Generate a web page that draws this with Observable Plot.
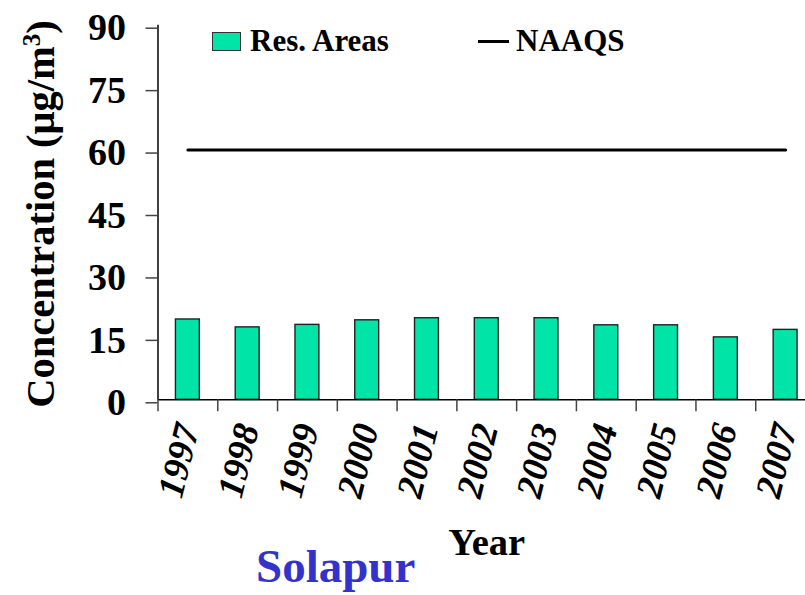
<!DOCTYPE html>
<html>
<head>
<meta charset="utf-8">
<script src="https://cdn.jsdelivr.net/npm/d3@7"></script>
<script src="https://cdn.jsdelivr.net/npm/@observablehq/plot@0.6"></script>
<style>
  html, body { margin: 0; padding: 0; background: #fff; overflow: hidden; width: 805px; height: 595px; }
  #wrap { position: relative; width: 805px; height: 595px; overflow: hidden; }
  .lbl { position: absolute; white-space: nowrap; line-height: 1; }
</style>
</head>
<body>
<div id="wrap"></div>
<script>
// ---- data ----
const years = [1997, 1998, 1999, 2000, 2001, 2002, 2003, 2004, 2005, 2006, 2007];
const resAreas = [19.3, 17.4, 18.0, 19.1, 19.6, 19.6, 19.6, 17.9, 17.9, 15.0, 16.8];
const naaqs = [60, 60, 60, 60, 60, 60, 60, 60, 60, 60, 60];
const yTicks = [0, 15, 30, 45, 60, 75, 90];
const seriesNames = ["Res. Areas", "NAAQS"];
const xTitle = "Year";
const yTitle = "Concentration (μg/m";
const yTitleSup = "3";
const yTitleEnd = ")";
const cityName = "Solapur";

const barColor = "#00E4A7";
const FONT = "'Liberation Serif'";

const table = years.map((y, i) => ({year: y, value: resAreas[i], limit: naaqs[i]}));
const boundaries = years.map(y => y - 0.5);

const chart = Plot.plot({
  width: 815,
  height: 595,
  marginLeft: 157.5,
  marginRight: 0,
  marginTop: 24.7,
  marginBottom: 195.7,
  style: "font-family: 'Liberation Serif'; font-weight: bold; font-size: 38px; color: #000; background: transparent; max-width: none; position: absolute; left: 0; top: 0;",
  x: {type: "linear", domain: [years[0] - 0.5, years[years.length - 1] + 0.5]},
  y: {domain: [0, 90]},
  marks: [
    Plot.rect(table, {
      x1: d => d.year - 0.2,
      x2: d => d.year + 0.2,
      y1: 0,
      y2: "value",
      fill: barColor,
      stroke: "#222",
      strokeWidth: 1.4
    }),
    Plot.lineY(table, {x: "year", y: "limit", stroke: "#000", strokeWidth: 3}),
    Plot.ruleY([0], {stroke: "#000", strokeWidth: 1.5}),
    Plot.ruleX([boundaries[0]], {stroke: "#000", strokeWidth: 1.5}),
    Plot.axisY({
      ticks: yTicks,
      tickSize: 12,
      tickPadding: 20,
      stroke: "#444",
      strokeWidth: 1.5,
      dy: 3,
      fontFamily: FONT,
      fontWeight: "bold",
      fontSize: 38,
      label: null
    }),
    Plot.axisX({
      ticks: boundaries,
      tickSize: 12,
      tickFormat: () => "",
      stroke: "#444",
      strokeWidth: 1.5,
      label: null
    }),
    Plot.axisX({
      ticks: years,
      tickSize: 0,
      tickPadding: 25,
      tickRotate: -76,
      tickFormat: d => String(d),
      fontFamily: FONT,
      fontWeight: "bold",
      fontStyle: "italic",
      fontSize: 37,
      label: null
    })
  ]
});

const wrap = document.getElementById("wrap");
wrap.appendChild(chart);

function addLabel(html, css) {
  const el = document.createElement("div");
  el.className = "lbl";
  el.innerHTML = html;
  el.style.fontFamily = FONT;
  el.style.fontWeight = "bold";
  Object.assign(el.style, css);
  wrap.appendChild(el);
  return el;
}

// legend
const sw = document.createElement("div");
Object.assign(sw.style, {position: "absolute", left: "211.7px", top: "32.3px", width: "29px", height: "18.7px",
  background: barColor, border: "1px solid #333", boxSizing: "border-box"});
wrap.appendChild(sw);
addLabel(seriesNames[0], {left: "250px", top: "24.5px", fontSize: "31px"});
const ln = document.createElement("div");
Object.assign(ln.style, {position: "absolute", left: "478px", top: "39.5px", width: "31px", height: "3px", background: "#000"});
wrap.appendChild(ln);
addLabel(seriesNames[1], {left: "516px", top: "25px", fontSize: "31px"});

// axis titles
addLabel(xTitle, {left: "486.7px", top: "522.5px", fontSize: "38.5px", transform: "translateX(-50%)"});
addLabel(yTitle + '<sup style="font-size:0.62em;vertical-align:0.55em;line-height:0">' + yTitleSup + '</sup>' + yTitleEnd,
  {left: "41px", top: "214px", fontSize: "40.5px", transform: "translate(-50%,-50%) rotate(-90deg)"});
addLabel(cityName, {left: "256px", top: "543px", fontSize: "47px", color: "#3333CC"});
</script>
</body>
</html>
